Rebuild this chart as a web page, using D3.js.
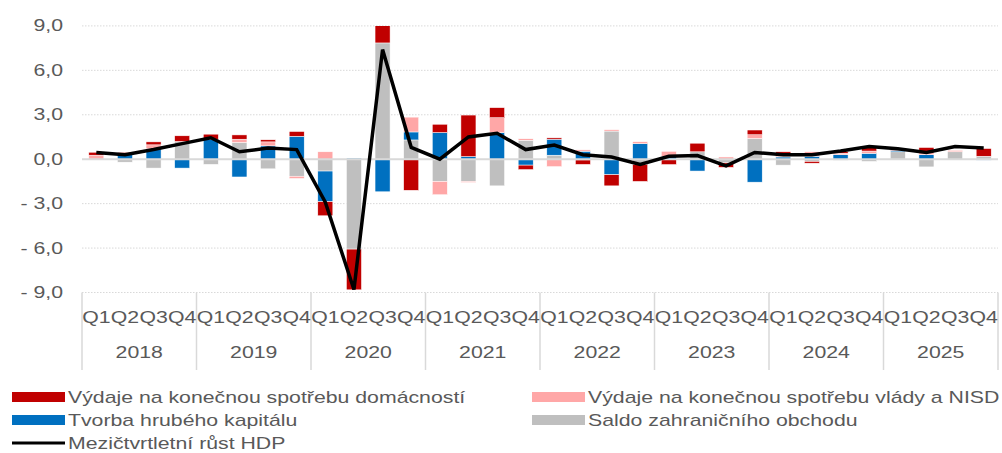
<!DOCTYPE html>
<html>
<head>
<meta charset="utf-8">
<script src="https://cdn.jsdelivr.net/npm/d3@7"></script>
<style>
  body { margin: 0; background: #fff; }
  svg text { font-family: "Liberation Sans", Arial, sans-serif; fill: #595959; }
</style>
</head>
<body>
<svg width="1002" height="453"></svg>
<script>
// roky a čtvrtletí
var years = ["2018", "2019", "2020", "2021", "2022", "2023", "2024", "2025"];
var quarters = ["Q1", "Q2", "Q3", "Q4"];
var yTicks = [-9, -6, -3, 0, 3, 6, 9];

// příspěvky k růstu (p.b.)
var households = [0.2, 0.07, 0.2, 0.38, 0.34, 0.29, 0.14, 0.32, -0.95, -2.75, 1.2, -2.1, 0.56, 2.8, 0.68, -0.3,
                  0.09, -0.3, -0.75, -1.15, -0.36, 0.58, -0.3, 0.32, 0.3, -0.12, 0.1, 0.3, 0.05, 0.34, 0, 0.52];
var government = [0.27, 0, 0.27, 0, 0, 0.22, 0.27, -0.15, 0.5, 0, 0, 1.0, -0.9, -0.07, 1.0, 0.1,
                  -0.5, 0.09, 0.09, 0.13, 0.33, 0, 0.15, 0.25, 0.05, 0.3, 0.1, 0.15, -0.05, 0.15, 0.1, 0];
var capital = [-0.05, 0.38, 0.7, -0.6, 1.35, -1.2, 0.9, 1.55, -2.07, 0.07, -2.2, 0.54, 1.8, 0.18, 1.8, -0.4,
               1.08, 0.54, -1.05, 1.05, 0.2, -0.8, 0, -1.55, 0.15, 0.2, 0.3, 0.4, 0.1, 0.3, 0, -0.06];
var trade = [0, -0.2, -0.6, 1.2, -0.35, 1.13, -0.65, -1.15, -0.8, -6.07, 7.85, 1.3, -1.5, -1.5, -1.8, 1.28,
             0.27, -0.05, 1.9, -0.35, 0, 0.5, -0.25, 1.4, -0.4, -0.15, -0.07, -0.15, 0.5, -0.52, 0.5, 0.2];
var gdp = [0.45, 0.3, 0.65, 1.05, 1.45, 0.5, 0.75, 0.65, -2.9, -8.8, 7.4, 0.8, 0.0, 1.5, 1.75, 0.65,
           0.95, 0.3, 0.15, -0.35, 0.2, 0.25, -0.45, 0.45, 0.3, 0.3, 0.55, 0.85, 0.7, 0.45, 0.85, 0.75];

var seriesNames = ["Výdaje na konečnou spotřebu domácností", "Výdaje na konečnou spotřebu vlády a NISD",
                   "Tvorba hrubého kapitálu", "Saldo zahraničního obchodu"];
var lineName = "Mezičtvrtletní růst HDP";
var colors = {trade: "#bfbfbf", capital: "#0070c0", government: "#ffa7a7", households: "#c00000"};

var svg = d3.select("svg");
var SX = 1.33; // text v originále je vodorovně roztažený

function txt(g, x, y, s, anchor) {
    return g.append("text")
        .attr("transform", "translate(" + x + "," + y + ") scale(" + SX + ",1)")
        .attr("text-anchor", anchor || "start")
        .attr("font-size", 16)
        .text(s);
}

// tabulka pro stack
var rows = gdp.map(function (v, i) {
    return {i: i, trade: trade[i], capital: capital[i], government: government[i], households: households[i]};
});

var x = d3.scaleBand().domain(d3.range(gdp.length)).range([82, 998]).paddingInner(0.475).paddingOuter(0.2375);
var y = d3.scaleLinear().domain([-9, 9]).range([292.5, 25.9]);

// mřížka
svg.append("g").selectAll("line").data(yTicks.filter(function (d) { return d !== 0; })).join("line")
    .attr("x1", 82).attr("x2", 998)
    .attr("y1", function (d) { return y(d); }).attr("y2", function (d) { return y(d); })
    .attr("stroke", "#d9d9d9").attr("stroke-width", 1).attr("stroke-dasharray", "1.5,1.5");

// popisky osy y
var yl = svg.append("g");
yTicks.forEach(function (d) {
    var s = (d < 0 ? "- " : "") + Math.abs(d).toFixed(1).replace(".", ",");
    txt(yl, 63, y(d) + 5.5, s, "end");
});

// sloupce
svg.append("clipPath").attr("id", "plot").append("rect")
    .attr("x", 82).attr("y", y(9)).attr("width", 916).attr("height", y(-9) - y(9));

var stack = d3.stack().keys(["trade", "capital", "government", "households"]).offset(d3.stackOffsetDiverging);
var layers = stack(rows);

svg.append("g").attr("clip-path", "url(#plot)").selectAll("g").data(layers).join("g")
    .attr("fill", function (d) { return colors[d.key]; })
    .selectAll("rect").data(function (d) { return d; }).join("rect")
    .attr("x", function (d) { return x(d.data.i); })
    .attr("width", x.bandwidth())
    .attr("y", function (d) { return y(Math.max(d[0], d[1])); })
    .attr("height", function (d) { return Math.abs(y(d[0]) - y(d[1])); })
    .attr("stroke", "#fff").attr("stroke-width", 0.5);

// nulová osa
svg.append("line").attr("x1", 82).attr("x2", 998).attr("y1", y(0)).attr("y2", y(0))
    .attr("stroke", "#d9d9d9").attr("stroke-width", 2);

// čára HDP
var line = d3.line().x(function (d, i) { return x(i) + x.bandwidth() / 2; }).y(function (d) { return y(d); });
svg.append("path").datum(gdp).attr("d", line)
    .attr("fill", "none").attr("stroke", "#000").attr("stroke-width", 3.5).attr("stroke-linejoin", "miter");

// osa x - čtvrtletí a roky
var yearW = 916 / years.length;
var xa = svg.append("g");
d3.range(years.length + 1).forEach(function (k) {
    xa.append("line").attr("x1", 82 + k * yearW).attr("x2", 82 + k * yearW)
        .attr("y1", 292.5).attr("y2", 370).attr("stroke", "#d9d9d9").attr("stroke-width", 1.5);
});
years.forEach(function (yr, k) {
    quarters.forEach(function (q, j) {
        txt(xa, x(k * 4 + j) + x.bandwidth() / 2, 323, q, "middle");
    });
    txt(xa, 82 + (k + 0.5) * yearW, 358, yr, "middle");
});

// legenda
var lg = svg.append("g");
var legendItems = [
    {name: seriesNames[0], color: colors.households, lx: 12, ly: 397},
    {name: seriesNames[1], color: colors.government, lx: 532, ly: 397},
    {name: seriesNames[2], color: colors.capital, lx: 12, ly: 420},
    {name: seriesNames[3], color: colors.trade, lx: 532, ly: 420}
];
legendItems.forEach(function (d) {
    lg.append("rect").attr("x", d.lx).attr("y", d.ly - 5).attr("width", 53).attr("height", 10).attr("fill", d.color);
    txt(lg, d.lx + 56, d.ly + 6, d.name);
});
lg.append("line").attr("x1", 12).attr("x2", 65).attr("y1", 443).attr("y2", 443)
    .attr("stroke", "#000").attr("stroke-width", 3);
txt(lg, 68, 449, lineName);
</script>
</body>
</html>
